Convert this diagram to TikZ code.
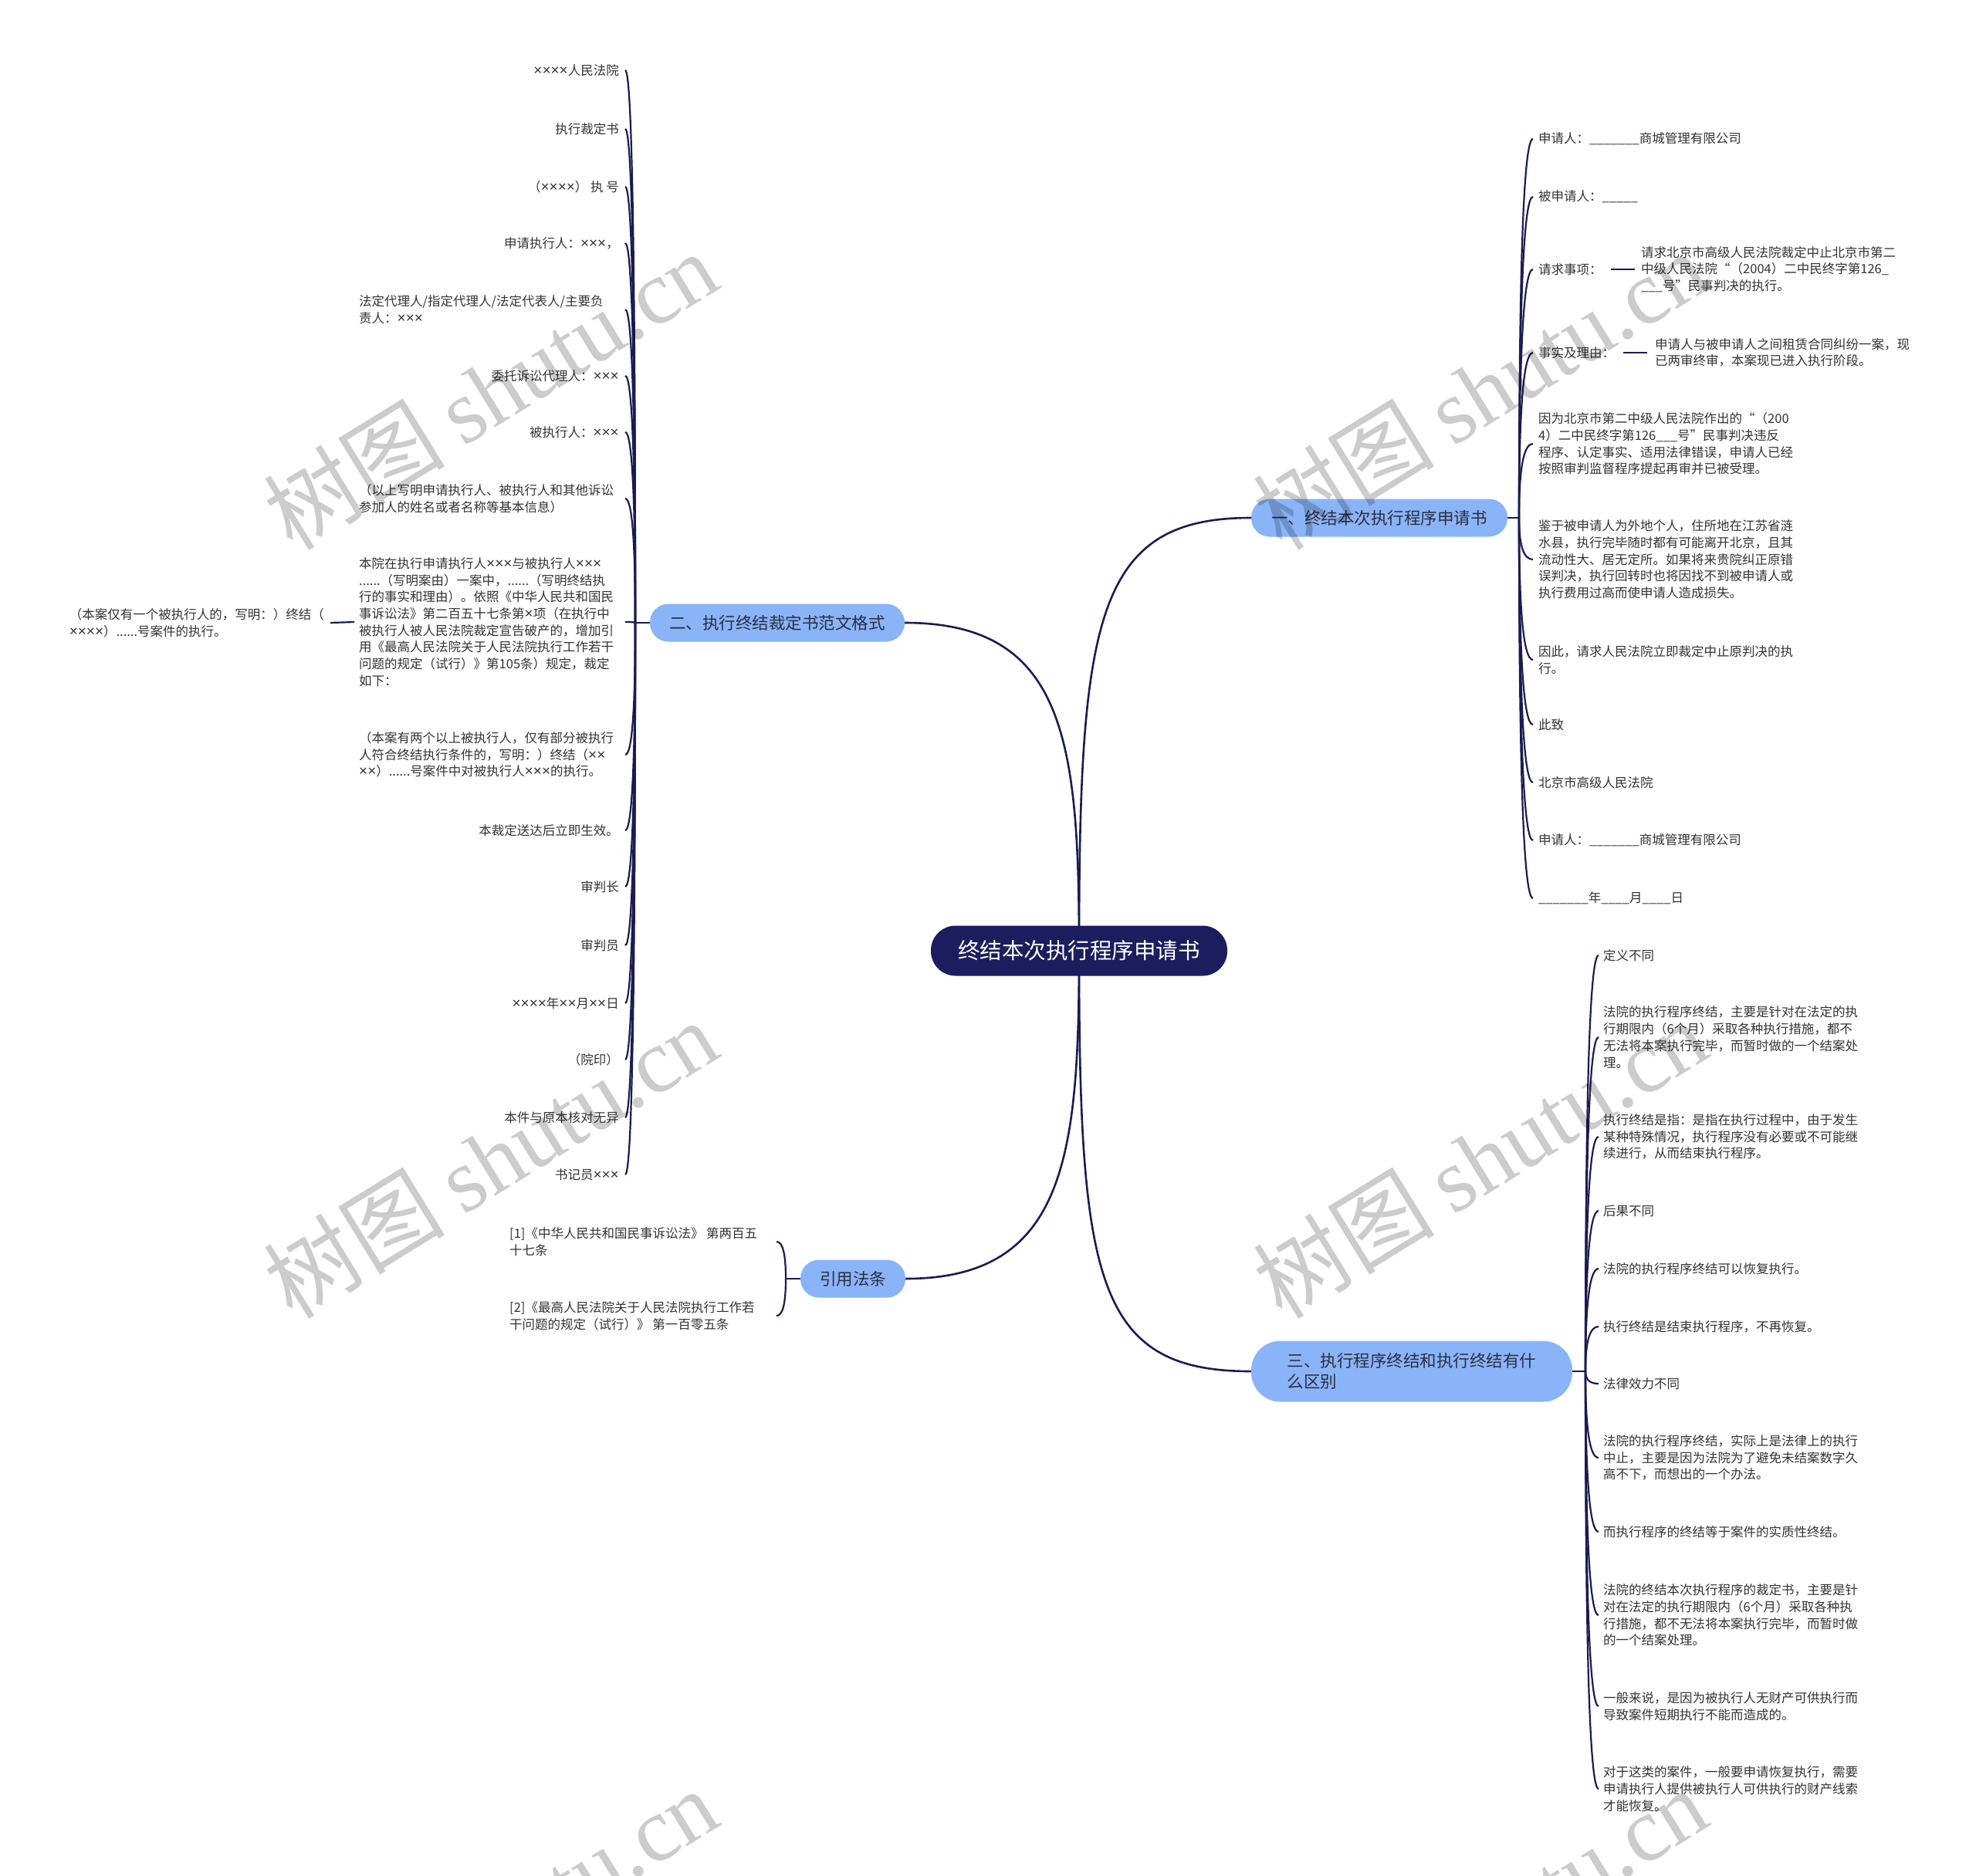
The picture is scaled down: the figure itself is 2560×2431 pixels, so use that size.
\documentclass[tikz,border=0pt]{standalone}
\usepackage{fontspec}
\setmainfont{Noto Sans CJK SC}
\newfontfamily\wmlatin{Liberation Serif}
\newfontfamily\latinf[Scale=1.15]{Liberation Sans}
\usetikzlibrary{calc,backgrounds}
\definecolor{rootc}{RGB}{27,29,94}
\definecolor{topicc}{RGB}{138,180,248}
\definecolor{linec}{RGB}{26,28,82}
\definecolor{txt}{RGB}{51,51,51}
\definecolor{topictxt}{RGB}{45,45,62}
\newcommand\leaffont{\fontsize{16.5}{21.7}\selectfont}
\newcommand\lconn[3]{%
  \path (#1 |- #2.center) coordinate (qq) (#3 |- #2.center) coordinate (ee);
  \draw[sub] (#1) .. controls ($(#1)!0.67!(qq)$) and ($(ee)!0.67!(qq)$) .. (ee);}
\begin{document}
\begin{tikzpicture}[x=1pt,y=-1pt,
  root/.style={fill=rootc,text=white,rounded corners=32pt,minimum width=384pt,minimum height=65pt,inner sep=0pt,font=\fontsize{28.5}{34}\selectfont},
  topic/.style={fill=topicc,text=topictxt,rounded corners=24pt,minimum height=49pt,inner sep=0pt,font=\fontsize{21.5}{27}\selectfont},
  leaf/.style={text=txt,inner sep=0pt,align=left,font=\leaffont},
  sub/.style={draw=linec,line width=2.2pt},
  mainc/.style={draw=linec,line width=2.6pt},
  wm/.style={text=black,text opacity=0.2,font=\fontsize{118}{128}\selectfont}]
\useasboundingbox (0,0) rectangle (2560,2431);

% central and main topics
\node[root] (c) at (1398,1232) {终结本次执行程序申请书};
\node[topic,minimum width=332pt] (b1) at (1787,671) {一、终结本次执行程序申请书};
\node[topic,minimum width=330pt] (b2) at (1007,807) {二、执行终结裁定书范文格式};
\node[topic,minimum width=416pt,minimum height=79pt,rounded corners=38pt,align=left] (b3) at (1829,1777) {三、执行程序终结和执行终结有什\\么区别};
\node[topic,minimum width=136pt] (b4) at (1105,1657) {引用法条};

\begin{scope}[on background layer]
\fill[white] (0,0) rectangle (2560,2431);
\draw[mainc] (c.center) .. controls (1398,800) and (1420,671) .. (b1.west);
\draw[mainc] (c.center) .. controls (1398,960) and (1380,807) .. (b2.east);
\draw[mainc] (c.center) .. controls (1398,1660) and (1420,1777) .. (b3.west);
\draw[mainc] (c.center) .. controls (1398,1500) and (1380,1657) .. (b4.east);
\end{scope}

% spines
\coordinate (s1) at (1968,671); \coordinate (e1) at (1986,0);
\coordinate (s2) at (823,807);  \coordinate (e2) at (810,0);
\coordinate (s3) at (2054,1777); \coordinate (e3) at (2071,0);
\coordinate (s4) at (1018,1657); \coordinate (e4) at (1006,0);
\draw[sub] (b1.east) -- (s1);
\draw[sub] (b2.west) -- (s2);
\draw[sub] (b3.east) -- (s3);
\draw[sub] (b4.west) -- (s4);

% branch 1
\node[leaf,anchor=west] (r1) at (1993,180) {申请人：\_\_\_\_\_\_\_商城管理有限公司};
\node[leaf,anchor=west] (r2) at (1993,255) {被申请人：\_\_\_\_\_};
\node[leaf,anchor=west] (r3) at (1993,349) {请求事项：};
\node[leaf,anchor=west] (r3a) at (2126,349) {请求北京市高级人民法院裁定中止北京市第二\\中级人民法院“（2004）二中民终字第126\_\\\_\_\_号”民事判决的执行。};
\node[leaf,anchor=west] (r4) at (1993,457) {事实及理由：};
\node[leaf,anchor=west] (r4a) at (2144,457) {申请人与被申请人之间租赁合同纠纷一案，现\\已两审终审，本案现已进入执行阶段。};
\node[leaf,anchor=west] (r5) at (1993,575) {因为北京市第二中级人民法院作出的“（200\\4）二中民终字第126\_\_\_号”民事判决违反\\程序、认定事实、适用法律错误，申请人已经\\按照审判监督程序提起再审并已被受理。};
\node[leaf,anchor=west] (r6) at (1993,725) {鉴于被申请人为外地个人，住所地在江苏省涟\\水县，执行完毕随时都有可能离开北京，且其\\流动性大、居无定所。如果将来贵院纠正原错\\误判决，执行回转时也将因找不到被申请人或\\执行费用过高而使申请人造成损失。};
\node[leaf,anchor=west] (r7) at (1993,855) {因此，请求人民法院立即裁定中止原判决的执\\行。};
\node[leaf,anchor=west] (r8) at (1993,939) {此致};
\node[leaf,anchor=west] (r9) at (1993,1014) {北京市高级人民法院};
\node[leaf,anchor=west] (r10) at (1993,1089) {申请人：\_\_\_\_\_\_\_商城管理有限公司};
\node[leaf,anchor=west] (r11) at (1993,1164) {\_\_\_\_\_\_\_年\_\_\_\_月\_\_\_\_日};
\foreach \n in {r1,r2,r3,r4,r5,r6,r7,r8,r9,r10,r11} {\lconn{s1}{\n}{e1}}
\draw[sub] ([xshift=11pt]r3.east) -- ([xshift=-8pt]r3a.west);
\draw[sub] ([xshift=11pt]r4.east) -- ([xshift=-10pt]r4a.west);

% branch 2
\node[leaf,anchor=east] (l1) at (802,91) {{\latinf ××××}人民法院};
\node[leaf,anchor=east] (l2) at (802,167) {执行裁定书};
\node[leaf,anchor=east] (l3) at (802,242) {（{\latinf ××××}） 执 号};
\node[leaf,anchor=east] (l4) at (802,315) {申请执行人：{\latinf ×××}，};
\node[leaf,anchor=west] (l5) at (465,401) {法定代理人/指定代理人/法定代表人/主要负\\责人：{\latinf ×××}};
\node[leaf,anchor=east] (l6) at (802,487) {委托诉讼代理人：{\latinf ×××}};
\node[leaf,anchor=east] (l7) at (802,560) {被执行人：{\latinf ×××}};
\node[leaf,anchor=west] (l8) at (465,646) {（以上写明申请执行人、被执行人和其他诉讼\\参加人的姓名或者名称等基本信息）};
\node[leaf,anchor=west] (l9) at (465,806) {本院在执行申请执行人{\latinf ×××}与被执行人{\latinf ×××}\\......（写明案由）一案中，......（写明终结执\\行的事实和理由）。依照《中华人民共和国民\\事诉讼法》第二百五十七条第{\latinf ×}项（在执行中\\被执行人被人民法院裁定宣告破产的，增加引\\用《最高人民法院关于人民法院执行工作若干\\问题的规定（试行）》第105条）规定，裁定\\如下：};
\node[leaf,anchor=east] (l9a) at (420,807) {（本案仅有一个被执行人的，写明：）终结（\\{\latinf ××××}）......号案件的执行。};
\node[leaf,anchor=west] (l10) at (465,978) {（本案有两个以上被执行人，仅有部分被执行\\人符合终结执行条件的，写明：）终结（{\latinf ××}\\{\latinf ××}）......号案件中对被执行人{\latinf ×××}的执行。};
\node[leaf,anchor=east] (l11) at (802,1076) {本裁定送达后立即生效。};
\node[leaf,anchor=east] (l12) at (802,1149) {审判长};
\node[leaf,anchor=east] (l13) at (802,1225) {审判员};
\node[leaf,anchor=east] (l14) at (802,1300) {{\latinf ××××}年{\latinf ××}月{\latinf ××}日};
\node[leaf,anchor=east] (l15) at (802,1373) {（院印）};
\node[leaf,anchor=east] (l16) at (802,1448) {本件与原本核对无异};
\node[leaf,anchor=east] (l17) at (802,1522) {书记员{\latinf ×××}};
\foreach \n in {l1,l2,l3,l4,l5,l6,l7,l8,l9,l10,l11,l12,l13,l14,l15,l16,l17} {\lconn{s2}{\n}{e2}}
\draw[sub] ([xshift=-6pt]l9.west) -- ([xshift=8pt]l9a.east);

% branch 3
\node[leaf,anchor=west] (t1) at (2077,1238) {定义不同};
\node[leaf,anchor=west] (t2) at (2077,1344) {法院的执行程序终结，主要是针对在法定的执\\行期限内（6个月）采取各种执行措施，都不\\无法将本案执行完毕，而暂时做的一个结案处\\理。};
\node[leaf,anchor=west] (t3) at (2077,1473) {执行终结是指：是指在执行过程中，由于发生\\某种特殊情况，执行程序没有必要或不可能继\\续进行，从而结束执行程序。};
\node[leaf,anchor=west] (t4) at (2077,1569) {后果不同};
\node[leaf,anchor=west] (t5) at (2077,1644) {法院的执行程序终结可以恢复执行。};
\node[leaf,anchor=west] (t6) at (2077,1719) {执行终结是结束执行程序，不再恢复。};
\node[leaf,anchor=west] (t7) at (2077,1793) {法律效力不同};
\node[leaf,anchor=west] (t8) at (2077,1889) {法院的执行程序终结，实际上是法律上的执行\\中止，主要是因为法院为了避免未结案数字久\\高不下，而想出的一个办法。};
\node[leaf,anchor=west] (t9) at (2077,1985) {而执行程序的终结等于案件的实质性终结。};
\node[leaf,anchor=west] (t10) at (2077,2093) {法院的终结本次执行程序的裁定书，主要是针\\对在法定的执行期限内（6个月）采取各种执\\行措施，都不无法将本案执行完毕，而暂时做\\的一个结案处理。};
\node[leaf,anchor=west] (t11) at (2077,2211) {一般来说，是因为被执行人无财产可供执行而\\导致案件短期执行不能而造成的。};
\node[leaf,anchor=west] (t12) at (2077,2318) {对于这类的案件，一般要申请恢复执行，需要\\申请执行人提供被执行人可供执行的财产线索\\才能恢复。};
\foreach \n in {t1,t2,t3,t4,t5,t6,t7,t8,t9,t10,t11,t12} {\lconn{s3}{\n}{e3}}

% branch 4
\node[leaf,anchor=west] (f1) at (660,1609) {[1]《中华人民共和国民事诉讼法》 第两百五\\十七条};
\node[leaf,anchor=west] (f2) at (660,1705) {[2]《最高人民法院关于人民法院执行工作若\\干问题的规定（试行）》 第一百零五条};
\foreach \n in {f1,f2} {\lconn{s4}{\n}{e4}}

% watermarks
\begin{scope}
\clip (0,0) rectangle (2560,2431);
\foreach \wx/\wy [count=\i] in {635/505,1917/505,635/1501,1917/1501,635/2497,1917/2497}
  \node[wm,rotate=31.6] (w\i) at (\wx,\wy) {树图\hspace{0.2em}{\wmlatin shutu.cn}};
\end{scope}
\end{tikzpicture}
\end{document}
